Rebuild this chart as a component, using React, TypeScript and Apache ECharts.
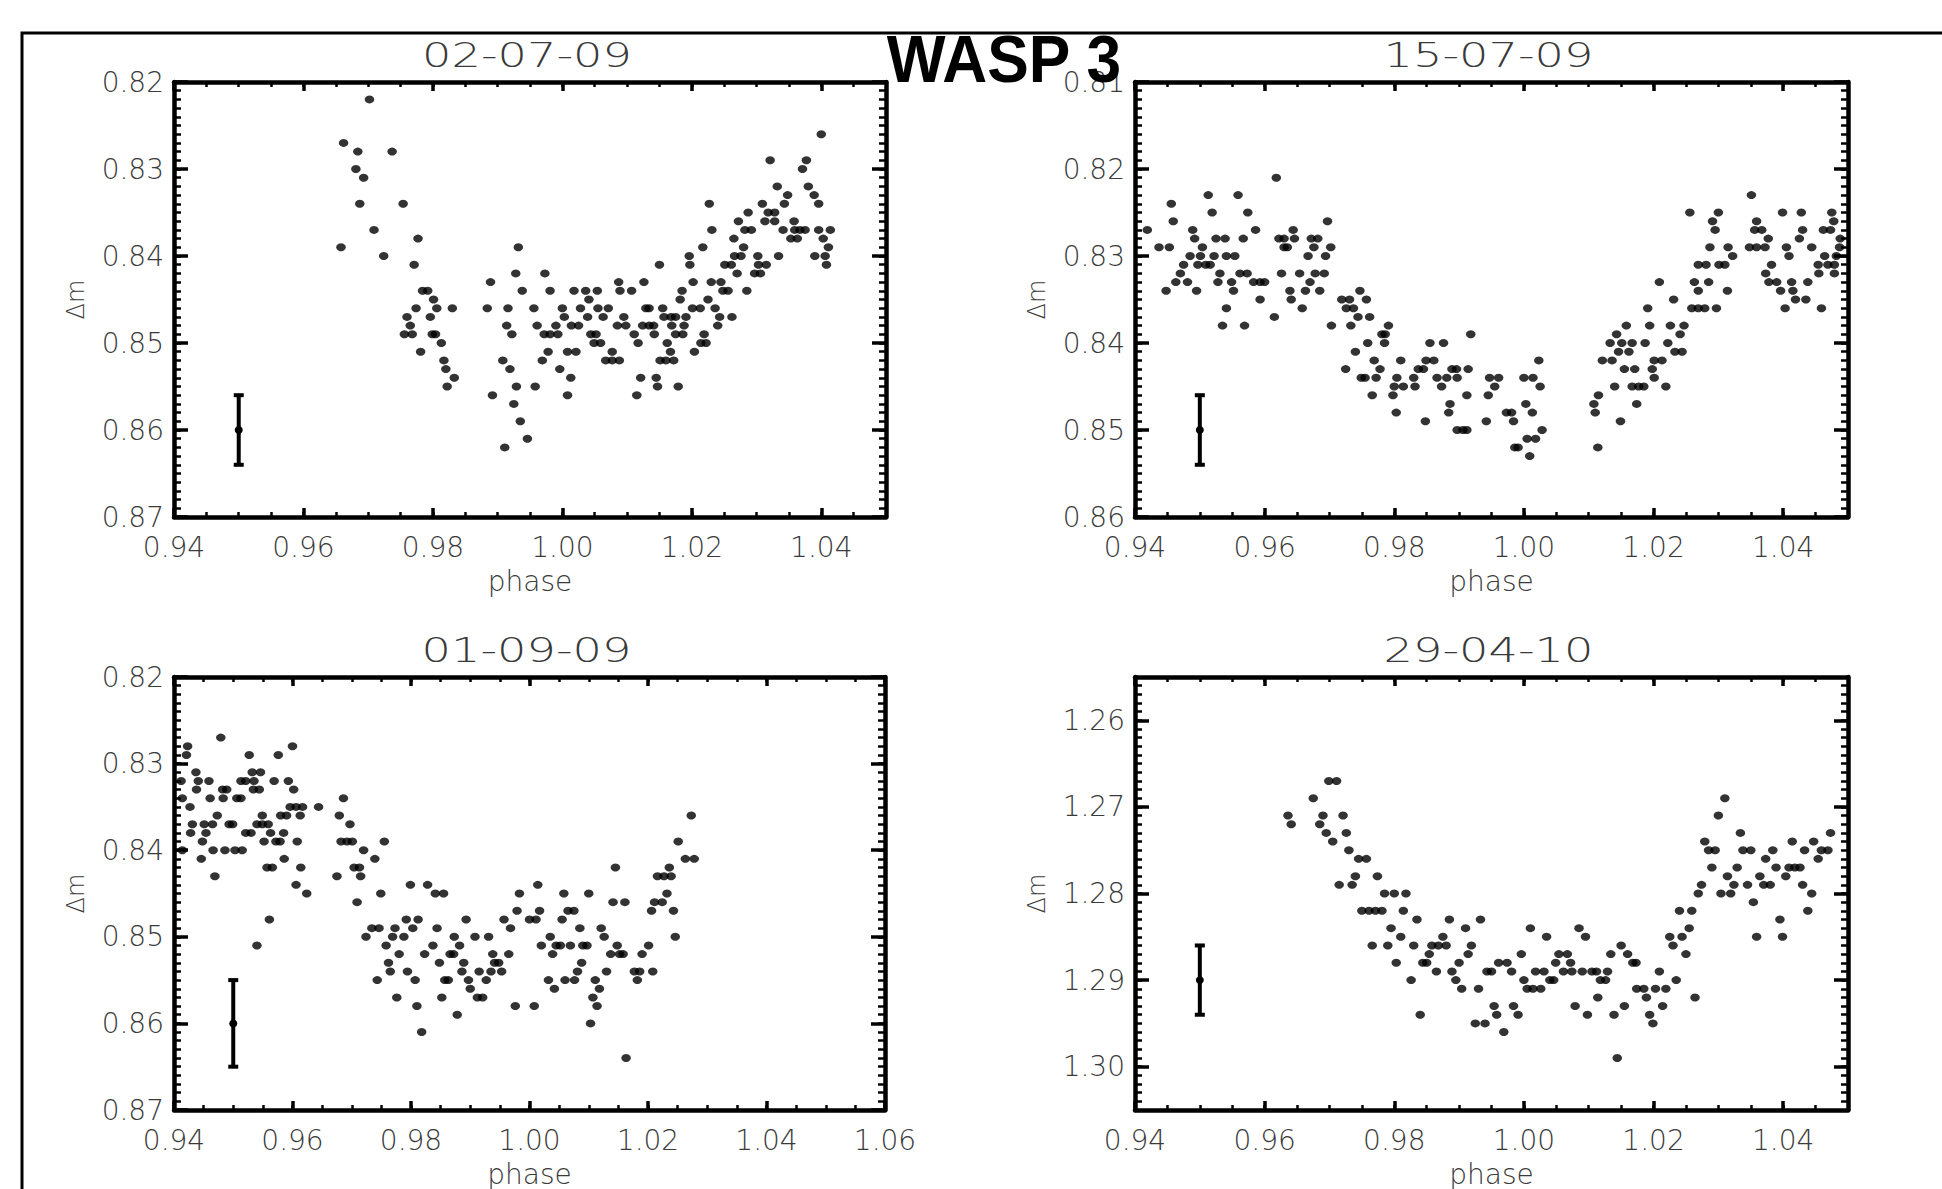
import React, { useEffect, useRef } from 'react';
import * as echarts from 'echarts';

// ---------------- texts ----------------
const CHART_TITLE = 'WASP 3';
const PANEL_TITLES = ['02-07-09', '15-07-09', '01-09-09', '29-04-10'];
const X_AXIS_NAME = 'phase';
const Y_AXIS_NAME = 'Δm';

// ---------------- tick labels ----------------
const X_TICKS_A = [0.94, 0.96, 0.98, 1.0, 1.02, 1.04];
const X_TICKS_B = [0.94, 0.96, 0.98, 1.0, 1.02, 1.04, 1.06];
const Y_TICKS_1 = [0.82, 0.83, 0.84, 0.85, 0.86, 0.87];
const Y_TICKS_2 = [0.81, 0.82, 0.83, 0.84, 0.85, 0.86];
const Y_TICKS_3 = [0.82, 0.83, 0.84, 0.85, 0.86, 0.87];
const Y_TICKS_4 = [1.26, 1.27, 1.28, 1.29, 1.3];

const X_RANGE_1 = [0.94, 1.05];
const X_RANGE_2 = [0.94, 1.05];
const X_RANGE_3 = [0.94, 1.06];
const X_RANGE_4 = [0.94, 1.05];
const Y_RANGE_1 = [0.82, 0.87];
const Y_RANGE_2 = [0.81, 0.86];
const Y_RANGE_3 = [0.82, 0.87];
const Y_RANGE_4 = [1.255, 1.305];

// ---------------- error bars [phase, dm, err] ----------------
const ERR_1 = [0.95, 0.86, 0.004];
const ERR_2 = [0.95, 0.85, 0.004];
const ERR_3 = [0.95, 0.86, 0.005];
const ERR_4 = [0.95, 1.29, 0.004];

// ---------------- observations [phase, dm] ----------------
const OBS_020709: number[][] = [
  [0.9702,0.822],[0.9662,0.827],[0.9684,0.828],[0.9737,0.828],[0.9681,0.830],[0.9693,0.831],
  [0.9687,0.834],[0.9754,0.834],[0.9709,0.837],[0.9777,0.838],[0.9658,0.839],[0.9932,0.839],
  [0.9724,0.840],[0.9771,0.841],[0.9928,0.842],[0.9889,0.843],[0.9784,0.844],[0.9792,0.844],[0.9938,0.844],
  [0.9801,0.845],[0.9774,0.846],[0.9806,0.846],[0.9830,0.846],[0.9884,0.846],[0.9916,0.846],[0.9956,0.846],
  [0.9760,0.847],[0.9796,0.847],[0.9765,0.848],[0.9914,0.848],[0.9961,0.848],
  [0.9756,0.849],[0.9768,0.849],[0.9799,0.849],[0.9804,0.849],[0.9922,0.849],[0.9813,0.850],[0.9781,0.851],
  [0.9817,0.852],[0.9908,0.852],[0.9820,0.853],[0.9919,0.853],[0.9833,0.854],
  [0.9822,0.855],[0.9929,0.855],[0.9958,0.855],[0.9892,0.856],[0.9925,0.857],[0.9935,0.859],[0.9946,0.861],[0.9911,0.862],
  [1.0400,0.826],[1.0321,0.829],[1.0377,0.829],[1.0371,0.830],[1.0332,0.832],[1.0380,0.832],
  [1.0348,0.833],[1.0389,0.833],[1.0227,0.834],[1.0309,0.834],[1.0343,0.834],[1.0396,0.834],
  [1.0287,0.835],[1.0318,0.835],[1.0328,0.835],[1.0272,0.836],[1.0313,0.836],[1.0328,0.836],[1.0358,0.836],
  [1.0231,0.837],[1.0282,0.837],[1.0292,0.837],[1.0341,0.837],[1.0359,0.837],[1.0367,0.837],[1.0375,0.837],[1.0396,0.837],[1.0414,0.837],
  [1.0265,0.838],[1.0353,0.838],[1.0363,0.838],[1.0403,0.838],[1.0217,0.839],[1.0280,0.839],[1.0411,0.839],
  [1.0196,0.840],[1.0266,0.840],[1.0276,0.840],[1.0302,0.840],[1.0334,0.840],[1.0390,0.840],[1.0406,0.840],
  [1.0150,0.841],[1.0197,0.841],[1.0251,0.841],[1.0261,0.841],[1.0303,0.841],[1.0315,0.841],[1.0408,0.841],
  [0.9973,0.842],[1.0270,0.842],[1.0297,0.842],[1.0306,0.842],
  [1.0087,0.843],[1.0126,0.843],[1.0202,0.843],[1.0230,0.843],[1.0245,0.843],
  [0.9981,0.844],[1.0018,0.844],[1.0036,0.844],[1.0054,0.844],[1.0089,0.844],[1.0107,0.844],[1.0185,0.844],[1.0248,0.844],[1.0256,0.844],[1.0285,0.844],
  [1.0041,0.845],[1.0182,0.845],[1.0225,0.845],
  [1.0000,0.846],[1.0028,0.846],[1.0055,0.846],[1.0071,0.846],[1.0129,0.846],[1.0134,0.846],[1.0155,0.846],[1.0201,0.846],[1.0213,0.846],[1.0236,0.846],
  [1.0003,0.847],[1.0039,0.847],[1.0063,0.847],[1.0095,0.847],[1.0157,0.847],[1.0168,0.847],[1.0175,0.847],[1.0191,0.847],[1.0243,0.847],[1.0262,0.847],
  [0.9990,0.848],[1.0014,0.848],[1.0025,0.848],[1.0085,0.848],[1.0098,0.848],[1.0124,0.848],[1.0134,0.848],[1.0141,0.848],[1.0169,0.848],[1.0188,0.848],[1.0240,0.848],
  [0.9972,0.849],[0.9981,0.849],[0.9993,0.849],[1.0044,0.849],[1.0052,0.849],[1.0111,0.849],[1.0142,0.849],[1.0175,0.849],[1.0186,0.849],[1.0219,0.849],
  [1.0049,0.850],[1.0059,0.850],[1.0117,0.850],[1.0162,0.850],[1.0214,0.850],[1.0222,0.850],
  [0.9978,0.851],[1.0008,0.851],[1.0021,0.851],[1.0077,0.851],[1.0167,0.851],[1.0204,0.851],
  [0.9969,0.852],[1.0067,0.852],[1.0077,0.852],[1.0088,0.852],[1.0151,0.852],[1.0160,0.852],[1.0172,0.852],
  [0.9996,0.853],[1.0013,0.854],[1.0121,0.854],[1.0145,0.854],[1.0147,0.855],[1.0179,0.855],[1.0008,0.856],[1.0115,0.856],
];

const OBS_150709: number[][] = [
  [0.9618,0.821],[0.9513,0.823],[0.9559,0.823],[0.9456,0.824],[0.9519,0.825],[0.9574,0.825],[0.9459,0.826],[0.9697,0.826],
  [0.9419,0.827],[0.9489,0.827],[0.9586,0.827],[0.9644,0.827],
  [0.9492,0.828],[0.9525,0.828],[0.9539,0.828],[0.9567,0.828],[0.9622,0.828],[0.9630,0.828],[0.9646,0.828],[0.9672,0.828],[0.9682,0.828],
  [0.9437,0.829],[0.9453,0.829],[0.9504,0.829],[0.9630,0.829],[0.9635,0.829],[0.9676,0.829],[0.9702,0.829],
  [0.9485,0.830],[0.9501,0.830],[0.9522,0.830],[0.9541,0.830],[0.9554,0.830],[0.9667,0.830],[0.9694,0.830],
  [0.9475,0.831],[0.9497,0.831],[0.9509,0.831],[0.9516,0.831],
  [0.9470,0.832],[0.9531,0.832],[0.9562,0.832],[0.9573,0.832],[0.9626,0.832],[0.9654,0.832],[0.9678,0.832],[0.9692,0.832],
  [0.9463,0.833],[0.9481,0.833],[0.9528,0.833],[0.9549,0.833],[0.9583,0.833],[0.9593,0.833],[0.9600,0.833],[0.9670,0.833],
  [0.9448,0.834],[0.9495,0.834],[0.9552,0.834],[0.9639,0.834],[0.9663,0.834],[0.9685,0.834],[0.9747,0.834],
  [0.9593,0.835],[0.9641,0.835],[0.9719,0.835],[0.9731,0.835],[0.9757,0.835],
  [0.9541,0.836],[0.9658,0.836],[0.9726,0.836],[0.9737,0.836],[0.9615,0.837],[0.9744,0.837],[0.9762,0.837],
  [0.9535,0.838],[0.9569,0.838],[0.9703,0.838],[0.9733,0.838],[0.9791,0.838],
  [0.9781,0.839],[0.9786,0.839],[0.9918,0.839],[0.9759,0.840],[0.9785,0.840],[0.9855,0.840],[0.9876,0.840],[0.9740,0.841],
  [0.9769,0.842],[0.9810,0.842],[0.9849,0.842],[0.9861,0.842],
  [0.9725,0.843],[0.9778,0.843],[0.9837,0.843],[0.9845,0.843],[0.9889,0.843],[0.9896,0.843],[0.9914,0.843],
  [0.9749,0.844],[0.9755,0.844],[0.9772,0.844],[0.9804,0.844],[0.9830,0.844],[0.9866,0.844],[0.9881,0.844],[0.9897,0.844],[0.9947,0.844],[0.9961,0.844],
  [0.9800,0.845],[0.9814,0.845],[0.9832,0.845],[0.9873,0.845],[0.9955,0.845],
  [0.9766,0.846],[0.9798,0.846],[0.9912,0.846],[0.9945,0.846],[0.9886,0.847],[0.9803,0.848],[0.9884,0.848],
  [0.9848,0.849],[0.9942,0.849],[0.9897,0.850],[0.9906,0.850],[0.9912,0.850],
  [1.0351,0.823],[1.0256,0.825],[1.0300,0.825],[1.0399,0.825],[1.0428,0.825],[1.0475,0.825],
  [1.0291,0.826],[1.0359,0.826],[1.0478,0.826],
  [1.0295,0.827],[1.0356,0.827],[1.0367,0.827],[1.0430,0.827],[1.0462,0.827],[1.0473,0.827],
  [1.0377,0.828],[1.0425,0.828],[1.0488,0.828],
  [1.0287,0.829],[1.0315,0.829],[1.0348,0.829],[1.0359,0.829],[1.0372,0.829],[1.0405,0.829],[1.0444,0.829],[1.0487,0.829],
  [1.0322,0.830],[1.0409,0.830],[1.0464,0.830],[1.0482,0.830],
  [1.0269,0.831],[1.0281,0.831],[1.0301,0.831],[1.0310,0.831],[1.0382,0.831],[1.0454,0.831],[1.0469,0.831],[1.0479,0.831],
  [1.0373,0.832],[1.0455,0.832],[1.0479,0.832],
  [1.0209,0.833],[1.0263,0.833],[1.0285,0.833],[1.0378,0.833],[1.0390,0.833],[1.0413,0.833],[1.0438,0.833],
  [1.0269,0.834],[1.0314,0.834],[1.0396,0.834],[1.0415,0.834],[1.0231,0.835],[1.0419,0.835],[1.0435,0.835],
  [1.0191,0.836],[1.0259,0.836],[1.0269,0.836],[1.0279,0.836],[1.0297,0.836],[1.0403,0.836],[1.0459,0.836],
  [1.0158,0.838],[1.0194,0.838],[1.0226,0.838],[1.0247,0.838],[1.0143,0.839],[1.0241,0.839],
  [1.0133,0.840],[1.0151,0.840],[1.0167,0.840],[1.0187,0.840],[1.0222,0.840],
  [1.0146,0.841],[1.0162,0.841],[1.0233,0.841],[1.0244,0.841],
  [1.0023,0.842],[1.0121,0.842],[1.0136,0.842],[1.0201,0.842],[1.0213,0.842],
  [1.0155,0.843],[1.0171,0.843],[1.0198,0.843],[1.0000,0.844],[1.0014,0.844],[1.0201,0.844],
  [1.0025,0.845],[1.0140,0.845],[1.0167,0.845],[1.0177,0.845],[1.0185,0.845],[1.0219,0.845],
  [1.0115,0.846],[1.0003,0.847],[1.0108,0.847],[1.0174,0.847],
  [0.9973,0.848],[0.9981,0.848],[1.0013,0.848],[1.0110,0.848],[0.9984,0.849],[1.0149,0.849],[1.0028,0.850],
  [1.0005,0.851],[1.0018,0.851],[0.9986,0.852],[0.9991,0.852],[1.0114,0.852],[1.0009,0.853],
];

const OBS_010909: number[][] = [
  [0.9479,0.827],[0.9423,0.828],[0.9600,0.828],[0.9421,0.829],[0.9527,0.829],[0.9576,0.829],
  [0.9437,0.831],[0.9532,0.831],[0.9546,0.831],
  [0.9412,0.832],[0.9441,0.832],[0.9459,0.832],[0.9513,0.832],[0.9521,0.832],[0.9535,0.832],[0.9569,0.832],[0.9593,0.832],
  [0.9438,0.833],[0.9482,0.833],[0.9489,0.833],[0.9534,0.833],[0.9544,0.833],[0.9602,0.833],
  [0.9414,0.834],[0.9461,0.834],[0.9483,0.834],[0.9506,0.834],[0.9513,0.834],[0.9686,0.834],
  [0.9427,0.835],[0.9596,0.835],[0.9606,0.835],[0.9617,0.835],[0.9644,0.835],
  [0.9473,0.836],[0.9549,0.836],[0.9580,0.836],[0.9590,0.836],[0.9613,0.836],[0.9679,0.836],
  [0.9431,0.837],[0.9451,0.837],[0.9465,0.837],[0.9493,0.837],[0.9499,0.837],[0.9540,0.837],[0.9549,0.837],[0.9559,0.837],[0.9697,0.837],
  [0.9428,0.838],[0.9454,0.838],[0.9521,0.838],[0.9530,0.838],[0.9563,0.838],[0.9585,0.838],
  [0.9448,0.839],[0.9552,0.839],[0.9572,0.839],[0.9579,0.839],[0.9608,0.839],[0.9682,0.839],[0.9692,0.839],[0.9701,0.839],[0.9755,0.839],
  [0.9414,0.840],[0.9466,0.840],[0.9486,0.840],[0.9503,0.840],[0.9515,0.840],[0.9720,0.840],
  [0.9446,0.841],[0.9586,0.841],[0.9739,0.841],[0.9557,0.842],[0.9566,0.842],[0.9614,0.842],[0.9704,0.842],[0.9713,0.842],
  [0.9469,0.843],[0.9675,0.843],[0.9715,0.843],[0.9606,0.844],[0.9799,0.844],[0.9828,0.844],[1.0014,0.844],
  [0.9624,0.845],[0.9749,0.845],[0.9841,0.845],[0.9855,0.845],[0.9983,0.845],[0.9709,0.846],[0.9979,0.847],[1.0017,0.847],
  [0.9561,0.848],[0.9792,0.848],[0.9812,0.848],[0.9893,0.848],[0.9957,0.848],[1.0000,0.848],[1.0011,0.848],
  [0.9734,0.849],[0.9746,0.849],[0.9773,0.849],[0.9803,0.849],[0.9844,0.849],[0.9968,0.849],
  [0.9724,0.850],[0.9769,0.850],[0.9788,0.850],[0.9873,0.850],[0.9908,0.850],[0.9931,0.850],
  [0.9540,0.851],[0.9758,0.851],[0.9837,0.851],[0.9882,0.851],[1.0020,0.851],
  [0.9780,0.852],[0.9823,0.852],[0.9866,0.852],[0.9872,0.852],[0.9938,0.852],[0.9965,0.852],
  [0.9762,0.853],[0.9848,0.853],[0.9889,0.853],[0.9941,0.853],[0.9948,0.853],
  [0.9765,0.854],[0.9794,0.854],[0.9886,0.854],[0.9915,0.854],[0.9935,0.854],[0.9953,0.854],
  [0.9743,0.855],[0.9807,0.855],[0.9857,0.855],[0.9863,0.855],[0.9897,0.855],[0.9927,0.855],
  [0.9900,0.856],[0.9776,0.857],[0.9852,0.857],[0.9912,0.857],[0.9921,0.857],
  [0.9810,0.858],[0.9976,0.858],[1.0008,0.858],[0.9878,0.859],[0.9818,0.861],
  [1.0273,0.836],[1.0251,0.839],[1.0263,0.841],[1.0278,0.841],[1.0145,0.842],[1.0236,0.842],
  [1.0216,0.843],[1.0227,0.843],[1.0239,0.843],[1.0058,0.845],[1.0100,0.845],[1.0232,0.845],
  [1.0141,0.846],[1.0161,0.846],[1.0211,0.846],[1.0224,0.846],
  [1.0065,0.847],[1.0075,0.847],[1.0206,0.847],[1.0243,0.847],[1.0055,0.848],
  [1.0085,0.849],[1.0121,0.849],[1.0035,0.850],[1.0126,0.850],[1.0246,0.850],
  [1.0045,0.851],[1.0052,0.851],[1.0069,0.851],[1.0090,0.851],[1.0097,0.851],[1.0148,0.851],[1.0201,0.851],
  [1.0039,0.852],[1.0137,0.852],[1.0152,0.852],[1.0158,0.852],[1.0190,0.852],[1.0088,0.853],
  [1.0081,0.854],[1.0130,0.854],[1.0177,0.854],[1.0186,0.854],[1.0208,0.854],
  [1.0032,0.855],[1.0060,0.855],[1.0076,0.855],[1.0111,0.855],[1.0182,0.855],
  [1.0042,0.856],[1.0118,0.856],[1.0107,0.857],[1.0114,0.858],[1.0103,0.860],[1.0163,0.864],
];

const OBS_290410: number[][] = [
  [0.9699,1.267],[0.9711,1.267],[0.9675,1.269],[0.9636,1.271],[0.9690,1.271],[0.9721,1.271],
  [0.9641,1.272],[0.9685,1.272],[0.9695,1.273],[0.9726,1.273],[0.9705,1.274],[0.9730,1.275],
  [0.9745,1.276],[0.9757,1.276],[0.9740,1.278],[0.9774,1.278],[0.9715,1.279],[0.9735,1.279],
  [0.9785,1.280],[0.9800,1.280],[0.9818,1.280],
  [0.9750,1.282],[0.9761,1.282],[0.9771,1.282],[0.9781,1.282],[0.9814,1.282],
  [0.9835,1.283],[0.9885,1.283],[0.9933,1.283],[0.9795,1.284],[0.9910,1.284],[0.9810,1.285],[0.9875,1.285],
  [0.9766,1.286],[0.9790,1.286],[0.9830,1.286],[0.9858,1.286],[0.9868,1.286],[0.9880,1.286],[0.9919,1.286],
  [0.9854,1.287],[0.9914,1.287],[0.9803,1.288],[0.9844,1.288],[0.9850,1.288],[0.9900,1.288],[0.9961,1.288],
  [0.9865,1.289],[0.9889,1.289],[0.9943,1.289],[0.9950,1.289],[0.9826,1.290],[0.9895,1.290],
  [0.9904,1.291],[0.9930,1.291],[0.9954,1.293],[0.9840,1.294],[0.9958,1.294],[0.9925,1.295],[0.9940,1.295],[0.9969,1.296],
  [1.0310,1.269],[1.0300,1.271],[1.0334,1.273],[1.0473,1.273],[1.0279,1.274],[1.0414,1.274],[1.0447,1.274],
  [1.0285,1.275],[1.0295,1.275],[1.0338,1.275],[1.0350,1.275],[1.0384,1.275],[1.0433,1.275],[1.0459,1.275],[1.0469,1.275],
  [1.0373,1.276],[1.0454,1.276],
  [1.0290,1.277],[1.0329,1.277],[1.0389,1.277],[1.0409,1.277],[1.0418,1.277],[1.0426,1.277],
  [1.0314,1.278],[1.0364,1.278],[1.0404,1.278],
  [1.0274,1.279],[1.0324,1.279],[1.0345,1.279],[1.0370,1.279],[1.0380,1.279],[1.0430,1.279],
  [1.0269,1.280],[1.0304,1.280],[1.0319,1.280],[1.0444,1.280],[1.0354,1.281],
  [1.0240,1.282],[1.0259,1.282],[1.0438,1.282],[1.0395,1.283],
  [1.0010,1.284],[1.0085,1.284],[1.0255,1.284],
  [1.0035,1.285],[1.0095,1.285],[1.0225,1.285],[1.0244,1.285],[1.0359,1.285],[1.0399,1.285],
  [1.0150,1.286],[1.0230,1.286],
  [0.9996,1.287],[1.0054,1.287],[1.0067,1.287],[1.0134,1.287],[1.0160,1.287],[1.0250,1.287],
  [0.9974,1.288],[1.0049,1.288],[1.0072,1.288],[1.0168,1.288],[1.0173,1.288],
  [0.9981,1.289],[1.0018,1.289],[1.0031,1.289],[1.0061,1.289],[1.0074,1.289],[1.0090,1.289],[1.0105,1.289],[1.0112,1.289],[1.0129,1.289],[1.0209,1.289],
  [1.0000,1.290],[1.0040,1.290],[1.0046,1.290],[1.0118,1.290],[1.0126,1.290],[1.0235,1.290],
  [1.0005,1.291],[1.0014,1.291],[1.0026,1.291],[1.0174,1.291],[1.0185,1.291],[1.0203,1.291],[1.0219,1.291],
  [1.0114,1.292],[1.0189,1.292],[1.0264,1.292],
  [0.9984,1.293],[1.0079,1.293],[1.0155,1.293],[1.0214,1.293],
  [0.9991,1.294],[1.0098,1.294],[1.0139,1.294],[1.0194,1.294],[1.0199,1.295],[1.0144,1.299],
];

// ---------------- layout / style ----------------
const W = 1942;
const H = 1189;
const GRIDS = [
  { left: 174, top: 82, width: 712, height: 435 },
  { left: 1135, top: 82, width: 713, height: 435 },
  { left: 174, top: 677, width: 711, height: 433 },
  { left: 1135, top: 677, width: 713, height: 433 },
];
const FONT = '"DejaVu Sans", sans-serif';
const TXT = '#3a3a3a';

const PANELS = [
  { title: PANEL_TITLES[0], data: OBS_020709, err: ERR_1, xr: X_RANGE_1, yr: Y_RANGE_1, xt: X_TICKS_A, yt: Y_TICKS_1 },
  { title: PANEL_TITLES[1], data: OBS_150709, err: ERR_2, xr: X_RANGE_2, yr: Y_RANGE_2, xt: X_TICKS_A, yt: Y_TICKS_2 },
  { title: PANEL_TITLES[2], data: OBS_010909, err: ERR_3, xr: X_RANGE_3, yr: Y_RANGE_3, xt: X_TICKS_B, yt: Y_TICKS_3 },
  { title: PANEL_TITLES[3], data: OBS_290410, err: ERR_4, xr: X_RANGE_4, yr: Y_RANGE_4, xt: X_TICKS_A, yt: Y_TICKS_4 },
];

function buildOption() {
  const xAxes: any[] = [];
  const yAxes: any[] = [];
  const series: any[] = [];
  const graphics: any[] = [];

  graphics.push({
    type: 'rect',
    shape: { x: 22, y: 33, width: 2100, height: 1400 },
    style: { fill: 'none', stroke: '#000', lineWidth: 3 },
    silent: true,
  });
  graphics.push({
    type: 'text',
    x: 1004,
    y: 59,
    scaleX: 0.93,
    style: {
      text: CHART_TITLE,
      font: 'bold 67px "Liberation Sans", Arial, sans-serif',
      fill: '#000',
      align: 'center',
      verticalAlign: 'middle',
    },
    z: 100,
  });

  PANELS.forEach((p, i) => {
    const g = GRIDS[i];
    const fmt = (v: number) => v.toFixed(2);
    // x axes: bottom major, bottom minor, top major, top minor
    ['bottom', 'top'].forEach((pos) => {
      xAxes.push({
        type: 'value',
        gridIndex: i,
        position: pos,
        min: p.xr[0],
        max: p.xr[1],
        axisLine: { show: true, onZero: false, lineStyle: { color: '#000', width: 4.5 } },
        axisTick: { show: true, inside: true, length: 9, customValues: p.xt, lineStyle: { color: '#000', width: 3.5 } },
        axisLabel: {
          show: pos === 'bottom',
          customValues: p.xt,
          formatter: fmt,
          margin: 16,
          fontFamily: FONT,
          fontWeight: 200,
          fontSize: 28,
          color: TXT,
        },
        splitLine: { show: false },
        name: pos === 'bottom' ? X_AXIS_NAME : '',
        nameLocation: 'middle',
        nameGap: 50,
        nameTextStyle: { fontFamily: FONT, fontWeight: 200, fontSize: 28, color: TXT },
      });
      xAxes.push({
        type: 'value',
        gridIndex: i,
        position: pos,
        min: p.xr[0],
        max: p.xr[1],
        interval: 0.005,
        axisLine: { show: false, onZero: false },
        axisTick: { show: true, inside: true, length: 5, lineStyle: { color: '#000', width: 2.5 } },
        axisLabel: { show: false },
        splitLine: { show: false },
      });
    });
    // y axes: left major, left minor, right major, right minor
    ['left', 'right'].forEach((pos) => {
      yAxes.push({
        type: 'value',
        gridIndex: i,
        position: pos,
        inverse: true,
        min: p.yr[0],
        max: p.yr[1],
        axisLine: { show: true, onZero: false, lineStyle: { color: '#000', width: 4.5 } },
        axisTick: { show: true, inside: true, length: 14, customValues: p.yt, lineStyle: { color: '#000', width: 3.5 } },
        axisLabel: {
          show: pos === 'left',
          customValues: p.yt,
          formatter: fmt,
          margin: 10,
          fontFamily: FONT,
          fontWeight: 200,
          fontSize: 28,
          color: TXT,
        },
        splitLine: { show: false },
        name: pos === 'left' ? Y_AXIS_NAME : '',
        nameLocation: 'middle',
        nameRotate: 90,
        nameGap: 86,
        nameTextStyle: { fontFamily: FONT, fontWeight: 200, fontSize: 24, color: TXT },
      });
      yAxes.push({
        type: 'value',
        gridIndex: i,
        position: pos,
        inverse: true,
        min: p.yr[0],
        max: p.yr[1],
        interval: 0.001,
        axisLine: { show: false, onZero: false },
        axisTick: { show: true, inside: true, length: 7, lineStyle: { color: '#000', width: 2.5 } },
        axisLabel: { show: false },
        splitLine: { show: false },
      });
    });

    series.push({
      type: 'scatter',
      xAxisIndex: i * 4,
      yAxisIndex: i * 4,
      symbol: 'circle',
      symbolSize: [9.5, 8],
      itemStyle: { color: '#000' },
      data: p.data,
      silent: true,
      z: 5,
    });
    series.push({
      type: 'custom',
      xAxisIndex: i * 4,
      yAxisIndex: i * 4,
      encode: { x: 0, y: 1 },
      data: [p.err],
      silent: true,
      z: 6,
      renderItem: (_params: any, api: any) => {
        const x = api.value(0);
        const y = api.value(1);
        const e = api.value(2);
        const a = api.coord([x, y - e]);
        const b = api.coord([x, y + e]);
        const m = api.coord([x, y]);
        const st = { stroke: '#000', lineWidth: 4 };
        const cap = 5;
        return {
          type: 'group',
          children: [
            { type: 'line', shape: { x1: a[0], y1: a[1], x2: b[0], y2: b[1] }, style: st },
            { type: 'line', shape: { x1: a[0] - cap, y1: a[1], x2: a[0] + cap, y2: a[1] }, style: st },
            { type: 'line', shape: { x1: b[0] - cap, y1: b[1], x2: b[0] + cap, y2: b[1] }, style: st },
            { type: 'circle', shape: { cx: m[0], cy: m[1], r: 4 }, style: { fill: '#000' } },
          ],
        };
      },
    });

    graphics.push({
      type: 'text',
      x: g.left + g.width / 2 - 3,
      y: g.top - 27,
      scaleX: 1.36,
      style: {
        text: p.title,
        font: `200 34px ${FONT}`,
        fill: TXT,
        align: 'center',
        verticalAlign: 'middle',
      },
    });
  });

  return {
    animation: false,
    backgroundColor: '#fff',
    grid: GRIDS.map((g) => ({ ...g, show: false, containLabel: false, outerBoundsMode: 'none' })),
    xAxis: xAxes,
    yAxis: yAxes,
    series,
    graphic: graphics,
  };
}

export default function App() {
  const ref = useRef<HTMLDivElement>(null);
  useEffect(() => {
    if (!ref.current) return;
    const chart = echarts.init(ref.current, null, { renderer: 'svg', width: W, height: H });
    chart.setOption(buildOption() as any);
    return () => chart.dispose();
  }, []);
  return (
    <div
      ref={ref}
      style={{ position: 'fixed', left: 0, top: 0, width: W, height: H, background: '#fff' }}
    />
  );
}
